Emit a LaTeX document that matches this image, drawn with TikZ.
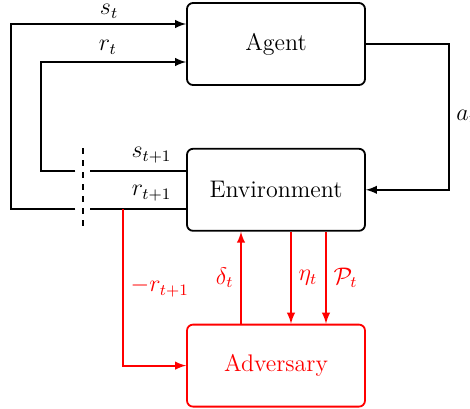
\documentclass[tikz,border=0pt]{standalone}
\usetikzlibrary{arrows,positioning}

\begin{document}
\begin{tikzpicture}
    [font=\large,
    block/.style={
        draw,
        line width=0.9pt,
        rounded corners=3pt,
        minimum width=89pt,
        minimum height=41pt
    },
    adv block/.style={block,draw=red,text=red},
    arrow/.style={>=latex,->,line width=0.9pt},
    line/.style={line width=0.9pt},
    red arrow/.style={arrow,red},
    gap/.style={inner sep=0pt,minimum width=7pt,minimum height=41pt}]

    \useasboundingbox (-138pt,22pt) rectangle (97pt,-182pt);

    %%% content
    \node (agent) [block] {Agent};
    \node (environment) [block, below=31pt of agent] {Environment};
    \node (adversary) [adv block, below=46pt of environment] {Adversary};
    \node (cut) [gap, left=48pt of environment] {};

    \coordinate (agent s) at ([yshift=10pt]agent.west);
    \coordinate (agent r) at ([yshift=-9pt]agent.west);
    \coordinate (env s) at ([yshift=9.5pt]environment.west);
    \coordinate (env r) at ([yshift=-9.5pt]environment.west);
    \coordinate[right=41.5pt of agent.east] (act turn);
    \coordinate[left=72.5pt of env s] (r turn);
    \coordinate[left=87.5pt of env r] (s turn);
    \coordinate[left=31.5pt of env r] (adv tap);

    %% lines
    \draw[arrow] (agent.east) -- (act turn) |- node[pos=0.25,right]{$a_t$} (environment.east);
    \draw[line] (env s) -- node[pos=0.36,above]{$s_{t+1}$} (cut.east |- env s);
    \draw[line] (env r) -- node[pos=0.36,above]{$r_{t+1}$} (cut.east |- env r);
    \draw[arrow] (cut.west |- env s) -- (r turn) |- node[pos=0.73,above]{$r_t$} (agent r);
    \draw[arrow] (cut.west |- env r) -- (s turn) |- node[pos=0.78,above,inner sep=2.5pt]{$s_t$} (agent s);
    \draw[line,dashed] (cut.north) -- (cut.south);
    \draw[red arrow] (adv tap) |- node[pos=0.25,right]{$-r_{t+1}$} (adversary.west);
    \draw[red arrow] ([xshift=-17.5pt]adversary.north) -- node[left]{$\delta_t$} ([xshift=-17.5pt]environment.south);
    \draw[red arrow] ([xshift=7.5pt]environment.south) -- node[right]{$\eta_t$} ([xshift=7.5pt]adversary.north);
    \draw[red arrow] ([xshift=25pt]environment.south) -- node[right]{$\mathcal{P}_t$} ([xshift=25pt]adversary.north);
\end{tikzpicture}
\end{document}
